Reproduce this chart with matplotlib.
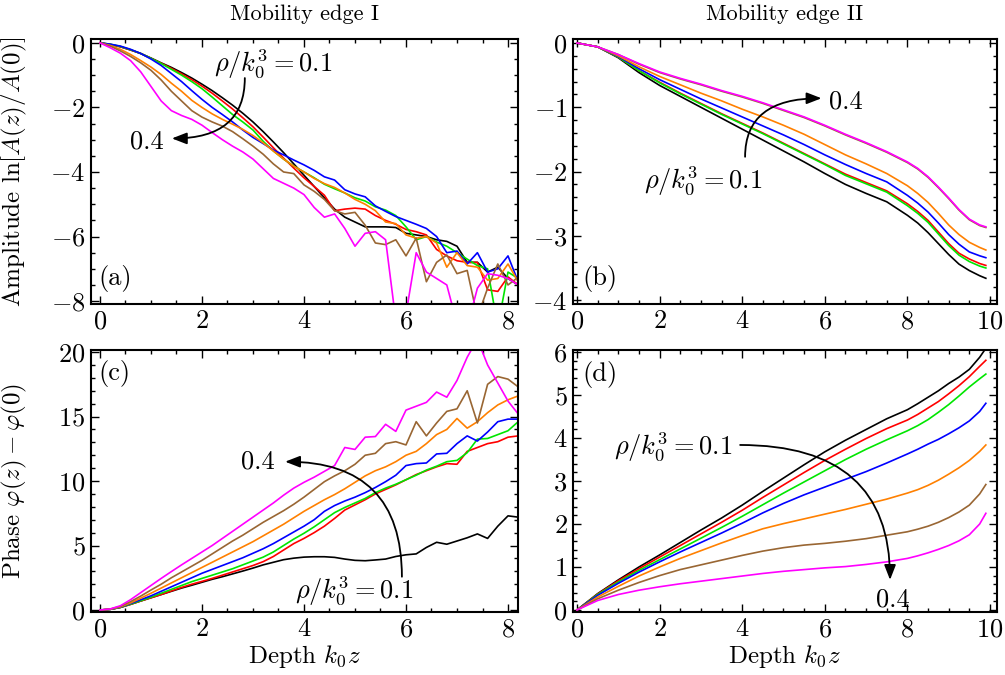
import matplotlib.pyplot as plt
import numpy as np
from matplotlib.ticker import MultipleLocator

plt.rcParams['font.family'] = ['cmr10']
plt.rcParams['mathtext.fontset'] = 'cm'
plt.rcParams['axes.formatter.use_mathtext'] = True
plt.rcParams['font.size'] = 18

# densities rho/k0^3 = 0.1 ... 0.4, one colour each
colors = ['#000000', '#ff0000', '#00e600', '#0000ff', '#ff8000', '#996633', '#ff00ff']

# Mobility edge I, depth grid
z1 = np.round(np.arange(0, 8.21, 0.2), 1)

amp1_black = [0, -0.05, -0.12, -0.22, -0.33, -0.47, -0.62, -0.76, -0.92, -1.09,
              -1.28, -1.48, -1.7, -1.93, -2.18, -2.45, -2.75, -3.07, -3.4, -3.75,
              -4.1, -4.45, -4.8, -5.15, -5.4, -5.55, -5.7, -5.7, -5.7, -5.72,
              -5.9, -5.95, -6.0, -6.1, -6.15, -6.3, -6.8, -6.8, -7.1, -6.95,
              -7.3, -7.5]
amp1_red = [0, -0.05, -0.12, -0.22, -0.33, -0.48, -0.63, -0.79, -0.96, -1.14,
            -1.34, -1.56, -1.8, -2.05, -2.32, -2.6, -2.92, -3.25, -3.57, -3.88,
            -4.18, -4.45, -4.72, -5.2, -5.15, -5.12, -5.15, -5.35, -5.5, -5.62,
            -5.78, -5.85, -5.95, -6.4, -6.6, -6.75, -6.8, -6.8, -7.65, -7.7,
            -7.25, -7.5]
amp1_green = [0, -0.04, -0.11, -0.21, -0.33, -0.48, -0.64, -0.82, -1.0, -1.2,
              -1.42, -1.68, -1.95, -2.22, -2.45, -2.7, -3.05, -3.35, -3.6, -3.82,
              -4.0, -4.18, -4.38, -4.52, -4.65, -4.8, -4.9, -5.08, -5.18, -5.35,
              -5.7, -6.1, -6.0, -6.17, -6.3, -6.5, -6.7, -6.9, -7.0, -8.8,
              -7.1, -7.3]
amp1_blue = [0, -0.04, -0.1, -0.2, -0.33, -0.5, -0.7, -0.95, -1.2, -1.48,
             -1.75, -2.0, -2.22, -2.45, -2.7, -2.93, -3.12, -3.32, -3.47, -3.63,
             -3.78, -3.95, -4.15, -4.25, -4.55, -4.68, -4.77, -5.05, -5.22, -5.38,
             -5.5, -5.62, -5.75, -6.0, -6.5, -6.45, -6.85, -6.5, -7.1, -7.0,
             -6.6, -7.4]
amp1_orange = [0, -0.08, -0.2, -0.36, -0.55, -0.75, -0.98, -1.25, -1.5, -1.78,
               -2.0, -2.2, -2.37, -2.52, -2.68, -2.87, -3.1, -3.35, -3.6, -3.82,
               -4.0, -4.2, -4.36, -4.48, -4.65, -4.85, -5.0, -5.2, -5.55, -5.6,
               -5.95, -6.05, -6.0, -6.2, -6.95, -6.5, -6.9, -6.95, -7.35, -7.3,
               -6.85, -7.4]
amp1_brown = [0, -0.1, -0.25, -0.42, -0.62, -0.85, -1.15, -1.5, -1.8, -2.1,
              -2.3, -2.45, -2.58, -2.75, -2.97, -3.2, -3.45, -3.75, -4.0, -4.05,
              -4.4, -4.6, -4.85, -5.2, -5.3, -5.25, -5.65, -6.2, -6.25, -6.1,
              -6.6, -6.05, -7.4, -6.8, -6.57, -7.15, -7.05, -8.5, -7.6, -6.85,
              -7.5, -7.26]
amp1_magenta = [0, -0.15, -0.32, -0.55, -0.9, -1.35, -1.8, -2.1, -2.25, -2.37,
                -2.55, -2.78, -3.0, -3.2, -3.38, -3.6, -3.9, -4.2, -4.35, -4.5,
                -4.7, -5.1, -5.4, -5.3, -5.75, -6.3, -5.9, -5.85, -6.1, -8.6,
                -8.4, -6.5, -7.1, -7.3, -7.5, -8.7, -8.8, -7.6, -7.15, -7.2,
                -7.3, -7.5]

ph1_black = [0, 0.05, 0.2, 0.45, 0.7, 0.95, 1.2, 1.45, 1.7, 1.92,
             2.15, 2.38, 2.58, 2.8, 3.02, 3.25, 3.5, 3.7, 3.9, 4.02,
             4.1, 4.13, 4.13, 4.08, 3.95, 3.85, 3.82, 3.88, 3.95, 4.15,
             4.28, 4.35, 4.85, 5.25, 5.1, 5.35, 5.6, 5.9, 5.55, 6.5,
             7.3, 7.2]
ph1_red = [0, 0.05, 0.2, 0.43, 0.7, 0.95, 1.2, 1.48, 1.75, 2.0,
           2.22, 2.45, 2.7, 2.95, 3.2, 3.45, 3.75, 4.15, 4.65, 5.15,
           5.55, 6.0, 6.5, 7.1, 7.75, 8.15, 8.55, 9.0, 9.35, 9.7,
           10.1, 10.5, 10.8, 11.1, 11.35, 11.3, 12.3, 12.6, 12.9, 13.05,
           13.4, 13.5]
ph1_green = [0, 0.05, 0.2, 0.45, 0.72, 1.0, 1.3, 1.6, 1.9, 2.2,
             2.45, 2.7, 2.95, 3.2, 3.5, 3.8, 4.1, 4.5, 5.0, 5.5,
             5.95, 6.45, 7.0, 7.55, 7.95, 8.3, 8.65, 9.1, 9.45, 9.75,
             10.1, 10.45, 10.85, 11.15, 11.5, 11.6, 12.2, 13.25, 13.3, 13.6,
             13.9, 14.6]
ph1_blue = [0, 0.05, 0.22, 0.5, 0.8, 1.1, 1.45, 1.8, 2.15, 2.5,
            2.85, 3.15, 3.45, 3.75, 4.05, 4.4, 4.75, 5.15, 5.6, 6.05,
            6.5, 7.0, 7.65, 8.1, 8.45, 8.75, 9.1, 9.5, 9.95, 10.45,
            11.2, 11.35, 11.4, 12.1, 12.15, 12.9, 13.5, 13.1, 13.8, 14.6,
            14.8, 14.8]
ph1_orange = [0, 0.06, 0.24, 0.55, 0.92, 1.3, 1.7, 2.1, 2.5, 2.9,
              3.3, 3.7, 4.1, 4.5, 4.9, 5.3, 5.75, 6.2, 6.65, 7.15,
              7.65, 8.1, 8.55, 8.95, 9.4, 9.9, 10.4, 10.8, 11.1, 11.5,
              12.0, 12.3, 12.9, 13.6, 14.0, 14.85, 14.1, 14.6, 15.3, 15.9,
              16.3, 16.6]
ph1_brown = [0, 0.07, 0.28, 0.65, 1.08, 1.55, 2.0, 2.5, 2.95, 3.4,
             3.85, 4.35, 4.85, 5.35, 5.8, 6.3, 6.8, 7.25, 7.7, 8.2,
             8.75, 9.35, 9.95, 10.4, 10.8, 11.3, 12.0, 12.15, 12.9, 13.05,
             12.8, 14.6, 13.5, 14.5, 15.4, 15.6, 17.0, 14.5, 17.5, 18.1,
             17.9, 17.3]
ph1_magenta = [0, 0.08, 0.33, 0.8, 1.35, 1.9, 2.45, 2.98, 3.5, 4.0,
               4.5, 5.0, 5.55, 6.1, 6.65, 7.2, 7.75, 8.3, 8.9, 9.45,
               9.9, 10.3, 10.75, 11.2, 12.6, 12.45, 13.4, 13.45, 14.4, 13.85,
               15.5, 15.8, 16.1, 16.9, 16.5, 17.8, 19.6, 21.0, 19.0, 17.6,
               16.2, 15.2]

# Mobility edge II, depth grid
z2 = [0, 0.5, 1, 1.5, 2, 2.5, 3, 3.5, 4, 4.5, 5, 5.5, 6, 6.5, 7, 7.5, 8,
      8.25, 8.5, 8.75, 9, 9.25, 9.5, 9.75, 9.9]

amp2_black = [0, -0.06, -0.23, -0.46, -0.66, -0.83, -1.0, -1.17, -1.34, -1.51, -1.68,
              -1.85, -2.03, -2.2, -2.34, -2.47, -2.68,
              -2.8, -2.95, -3.12, -3.29, -3.44, -3.54, -3.62, -3.66]
amp2_red = [0, -0.06, -0.22, -0.43, -0.61, -0.78, -0.94, -1.1, -1.25, -1.4, -1.56,
            -1.72, -1.88, -2.04, -2.17, -2.3, -2.5,
            -2.62, -2.76, -2.94, -3.12, -3.27, -3.36, -3.43, -3.46]
amp2_green = [0, -0.06, -0.22, -0.43, -0.62, -0.79, -0.95, -1.11, -1.26, -1.41, -1.57,
              -1.73, -1.89, -2.06, -2.19, -2.32, -2.53,
              -2.65, -2.79, -2.97, -3.15, -3.3, -3.4, -3.47, -3.5]
amp2_blue = [0, -0.06, -0.21, -0.4, -0.57, -0.72, -0.87, -1.01, -1.15, -1.29, -1.43,
             -1.58, -1.74, -1.89, -2.03, -2.16, -2.37,
             -2.49, -2.63, -2.8, -2.98, -3.13, -3.25, -3.31, -3.34]
amp2_orange = [0, -0.06, -0.2, -0.37, -0.52, -0.65, -0.78, -0.9, -1.03, -1.15, -1.28,
               -1.42, -1.58, -1.74, -1.88, -2.03, -2.22,
               -2.34, -2.48, -2.65, -2.83, -2.98, -3.1, -3.18, -3.22]
amp2_brown = [0, -0.06, -0.18, -0.33, -0.46, -0.56, -0.65, -0.75, -0.84, -0.94, -1.05,
              -1.16, -1.29, -1.43, -1.56, -1.7, -1.86,
              -1.96, -2.09, -2.25, -2.42, -2.6, -2.75, -2.84, -2.87]
amp2_magenta = [0, -0.06, -0.18, -0.32, -0.45, -0.55, -0.64, -0.74, -0.83, -0.93, -1.04,
                -1.15, -1.28, -1.42, -1.55, -1.69, -1.85,
                -1.95, -2.08, -2.24, -2.41, -2.59, -2.74, -2.83, -2.86]

ph2_black = [0, 0.38, 0.7, 1.0, 1.28, 1.57, 1.86, 2.14, 2.44, 2.76, 3.07,
             3.38, 3.68, 3.95, 4.2, 4.45, 4.66,
             4.8, 4.95, 5.1, 5.27, 5.42, 5.6, 5.88, 6.09]
ph2_red = [0, 0.37, 0.68, 0.96, 1.23, 1.5, 1.77, 2.04, 2.32, 2.62, 2.91,
           3.2, 3.48, 3.74, 3.99, 4.22, 4.42,
           4.55, 4.7, 4.85, 5.03, 5.22, 5.43, 5.67, 5.81]
ph2_green = [0, 0.36, 0.65, 0.92, 1.17, 1.42, 1.67, 1.92, 2.18, 2.45, 2.72,
             2.98, 3.24, 3.5, 3.74, 3.96, 4.17,
             4.29, 4.43, 4.6, 4.78, 4.98, 5.19, 5.38, 5.49]
ph2_blue = [0, 0.34, 0.62, 0.88, 1.12, 1.35, 1.57, 1.79, 2.02, 2.26, 2.48,
            2.68, 2.86, 3.04, 3.22, 3.42, 3.63,
            3.74, 3.86, 3.97, 4.1, 4.24, 4.4, 4.62, 4.81]
ph2_orange = [0, 0.3, 0.55, 0.79, 1.0, 1.2, 1.38, 1.56, 1.73, 1.89, 2.01,
              2.12, 2.23, 2.34, 2.46, 2.58, 2.72,
              2.8, 2.9, 3.02, 3.16, 3.31, 3.48, 3.69, 3.84]
ph2_brown = [0, 0.26, 0.46, 0.64, 0.8, 0.94, 1.05, 1.16, 1.27, 1.37, 1.45,
             1.51, 1.55, 1.6, 1.66, 1.74, 1.82,
             1.88, 1.95, 2.04, 2.15, 2.28, 2.44, 2.7, 2.92]
ph2_magenta = [0, 0.22, 0.36, 0.46, 0.54, 0.61, 0.67, 0.73, 0.79, 0.85, 0.9,
               0.94, 0.98, 1.01, 1.06, 1.12, 1.2,
               1.26, 1.33, 1.41, 1.5, 1.61, 1.75, 2.0, 2.25]

amp1 = [amp1_black, amp1_red, amp1_green, amp1_blue, amp1_orange, amp1_brown, amp1_magenta]
ph1 = [ph1_black, ph1_red, ph1_green, ph1_blue, ph1_orange, ph1_brown, ph1_magenta]
amp2 = [amp2_black, amp2_red, amp2_green, amp2_blue, amp2_orange, amp2_brown, amp2_magenta]
ph2 = [ph2_black, ph2_red, ph2_green, ph2_blue, ph2_orange, ph2_brown, ph2_magenta]

fig = plt.figure(figsize=(10.05, 6.75), dpi=100)
W, H = 1005, 675
ax_a = fig.add_axes([91 / W, (H - 304) / H, 427 / W, 265 / H])
ax_b = fig.add_axes([573 / W, (H - 304) / H, 424 / W, 265 / H])
ax_c = fig.add_axes([91 / W, (H - 612) / H, 427 / W, 262 / H])
ax_d = fig.add_axes([573 / W, (H - 612) / H, 424 / W, 262 / H])

FS = 19  # tick labels and annotations


def style(ax, xmaj, xmin, ymaj, ymin):
    ax.xaxis.set_major_locator(MultipleLocator(xmaj))
    ax.xaxis.set_minor_locator(MultipleLocator(xmin))
    ax.yaxis.set_major_locator(MultipleLocator(ymaj))
    ax.yaxis.set_minor_locator(MultipleLocator(ymin))
    ax.tick_params(which='both', direction='in', top=True, right=True, width=1)
    ax.tick_params(which='major', length=6, pad=4, labelsize=FS)
    ax.tick_params(which='minor', length=3)
    for s in ax.spines.values():
        s.set_linewidth(1.5)


for ax, z, data in [(ax_a, z1, amp1), (ax_b, z2, amp2), (ax_c, z1, ph1), (ax_d, z2, ph2)]:
    for y, c in zip(data, colors):
        ax.plot(z, y, color=c, lw=1.2)

ax_a.set_xlim(-0.176, 8.196)
ax_a.set_ylim(-8.09, 0.12)
ax_b.set_xlim(-0.097, 10.17)
ax_b.set_ylim(-4.06, 0.062)
ax_c.set_xlim(-0.176, 8.196)
ax_c.set_ylim(-0.155, 20.16)
ax_d.set_xlim(-0.097, 10.17)
ax_d.set_ylim(-0.047, 6.05)

style(ax_a, 2, 0.5, 2, 0.5)
style(ax_b, 2, 0.5, 1, 0.2)
style(ax_c, 2, 0.5, 5, 1)
style(ax_d, 2, 0.5, 1, 0.2)

ax_a.text(0.5, 1.092, 'Mobility edge I', transform=ax_a.transAxes,
          ha='center', va='center', fontsize=16)
ax_b.text(0.5, 1.092, 'Mobility edge II', transform=ax_b.transAxes,
          ha='center', va='center', fontsize=16)
ax_a.set_ylabel(r'Amplitude $\ln[A(z)/A(0)]$')
ax_c.set_ylabel(r'Phase $\varphi(z)-\varphi(0)$')
ax_a.yaxis.set_label_coords(-0.145, 0.5)
ax_c.yaxis.set_label_coords(-0.145, 0.5)
ax_c.set_xlabel(r'Depth $k_0z$', labelpad=1)
ax_d.set_xlabel(r'Depth $k_0z$', labelpad=1)

ax_a.text(0.056, 0.098, '(a)', transform=ax_a.transAxes, ha='center', va='center', fontsize=FS)
ax_b.text(0.064, 0.098, '(b)', transform=ax_b.transAxes, ha='center', va='center', fontsize=FS)
ax_c.text(0.056, 0.912, '(c)', transform=ax_c.transAxes, ha='center', va='center', fontsize=FS)
ax_d.text(0.064, 0.908, '(d)', transform=ax_d.transAxes, ha='center', va='center', fontsize=FS)

lab = r'$\rho/k_0^3=0.1$'
arrow = dict(arrowstyle='-|>,head_length=0.9,head_width=0.35', color='k', lw=1.3,
             shrinkA=0, shrinkB=0, mutation_scale=10)

ax_a.text(3.39, -0.68, lab, ha='center', va='center', fontsize=FS)
ax_a.text(0.92, -3.07, '0.4', ha='center', va='center', fontsize=FS)
ax_a.annotate('', xy=(1.41, -2.96), xytext=(2.84, -1.09),
              arrowprops=dict(arrow, connectionstyle='angle3,angleA=90,angleB=0'))

ax_b.text(3.05, -2.16, lab, ha='center', va='center', fontsize=FS)
ax_b.text(6.51, -0.92, '0.4', ha='center', va='center', fontsize=FS)
ax_b.annotate('', xy=(5.92, -0.86), xytext=(4.07, -1.77),
              arrowprops=dict(arrow, connectionstyle='angle3,angleA=90,angleB=0'))

ax_c.text(4.98, 1.45, lab, ha='center', va='center', fontsize=FS)
ax_c.text(3.1, 11.47, '0.4', ha='center', va='center', fontsize=FS)
ax_c.annotate('', xy=(3.63, 11.5), xytext=(5.92, 2.58),
              arrowprops=dict(arrow, connectionstyle='angle3,angleA=90,angleB=0'))

ax_d.text(2.32, 3.79, lab, ha='center', va='center', fontsize=FS)
ax_d.text(7.65, 0.25, '0.4', ha='center', va='center', fontsize=FS)
ax_d.annotate('', xy=(7.58, 0.7), xytext=(3.95, 3.84),
              arrowprops=dict(arrow, connectionstyle='angle3,angleA=0,angleB=90'))

fig.savefig('out.png', dpi=100)
